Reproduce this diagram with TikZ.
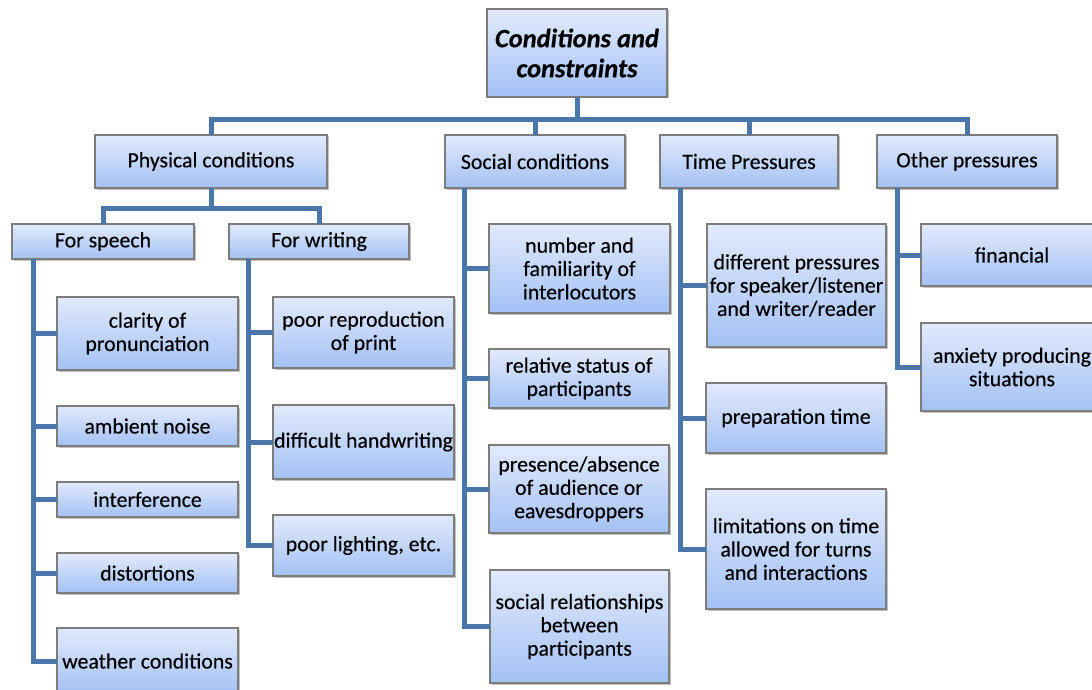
\documentclass[tikz,border=0pt]{standalone}
\usepackage{fontspec}
\setmainfont{Carlito}[FakeBold=0.4]
\usetikzlibrary{shadows,calc}
\definecolor{boxtop}{RGB}{226,234,252}
\definecolor{boxbot}{RGB}{163,193,245}
\definecolor{linkc}{RGB}{74,118,170}
\definecolor{edgec}{RGB}{125,125,125}
\tikzset{
  bx/.style={draw=edgec, line width=1.2pt, top color=boxtop, bottom color=boxbot,
    inner sep=0pt, outer sep=0pt, align=center,
    font=\fontsize{21.8}{23.3}\selectfont,
    drop shadow={shadow xshift=1.5pt, shadow yshift=-1.5pt, opacity=0.35, fill=black!70}},
  rootfont/.style={font=\fontsize{26.5}{30}\selectfont\bfseries\itshape},
  conn/.style={draw=linkc, line width=5pt, line join=miter, line cap=butt},
}
\newcommand\bx[7][]{%
  \node[bx, #1, minimum width={#5pt-#3pt}, minimum height={#6pt-#4pt}] (#2) at ({(#3+#5)/2},{(#4+#6)/2}) {#7};}
\begin{document}
\begin{tikzpicture}[x=1pt,y=-1pt]
\useasboundingbox[fill=white] (0,0) rectangle (1092,690);
% boxes
\bx[rootfont]{root}{487}{9}{667}{97}{Conditions and\\constraints}
\bx{phys}{95}{135}{327}{188}{Physical conditions}
\bx{soc}{445}{135}{625}{188}{Social conditions}
\bx{time}{660}{135}{838}{188}{Time Pressures}
\bx{other}{877}{135}{1057}{188}{Other pressures}
\bx{speech}{12}{224}{194}{259}{For speech}
\bx{writing}{229}{224}{409}{259}{For writing}
\bx{clar}{57}{297}{238}{370}{clarity of\\pronunciation}
\bx{amb}{57}{406}{238}{446}{ambient noise}
\bx{intf}{57}{482}{238}{517}{interference}
\bx{dist}{57}{553}{238}{593}{distortions}
\bx{weat}{57}{628}{238}{694}{weather conditions}
\bx{repr}{273}{297}{454}{368}{poor reproduction\\of print}
\bx{hand}{273}{405}{454}{479}{difficult handwriting}
\bx{light}{273}{515}{454}{576}{poor lighting, etc.}
\bx{num}{489}{224}{670}{313}{number and\\familiarity of\\interlocutors}
\bx{rel}{489}{349}{669}{408}{relative status of\\participants}
\bx{pres}{489}{445}{669}{533}{presence/absence\\of audience or\\eavesdroppers}
\bx{srel}{490}{570}{669}{683}{social relationships\\between\\participants}
\bx{diff}{707}{224}{886}{347}{different pressures\\for speaker/listener\\and writer/reader}
\bx{prep}{706}{383}{886}{453}{preparation time}
\bx{lim}{706}{489}{886}{609}{limitations on time\\allowed for turns\\and interactions}
\bx{fin}{921}{224}{1103}{286}{financial}
\bx{anx}{921}{323}{1103}{411}{anxiety producing\\situations}
% bus coordinates
\coordinate (bus) at (577,120);
\coordinate (pb) at (211,208);
\coordinate (ts) at ($(speech.south west)+(21,0)$);
\coordinate (tw) at ($(writing.south west)+(19,0)$);
\coordinate (tsoc) at ($(soc.south west)+(19,0)$);
\coordinate (ttime) at ($(time.south west)+(20,0)$);
\coordinate (toth) at ($(other.south west)+(20,0)$);
% top level
\draw[conn] (root.south) -- (bus);
\draw[conn] (phys.north) |- (bus) -| (other.north);
\draw[conn] (soc.north) -- (soc.north |- bus);
\draw[conn] (time.north) -- (time.north |- bus);
% physical
\draw[conn] (phys.south) -- (pb);
\draw[conn] (speech.north) |- (pb) -| (writing.north);
% for speech
\draw[conn] (ts) |- (weat.west);
\draw[conn] (clar.west) -- (clar.west -| ts);
\draw[conn] (amb.west) -- (amb.west -| ts);
\draw[conn] (intf.west) -- (intf.west -| ts);
\draw[conn] (dist.west) -- (dist.west -| ts);
% for writing
\draw[conn] (tw) |- (light.west);
\draw[conn] (repr.west) -- (repr.west -| tw);
\draw[conn] (hand.west) -- (hand.west -| tw);
% social
\draw[conn] (tsoc) |- (srel.west);
\draw[conn] (num.west) -- (num.west -| tsoc);
\draw[conn] (rel.west) -- (rel.west -| tsoc);
\draw[conn] (pres.west) -- (pres.west -| tsoc);
% time
\draw[conn] (ttime) |- (lim.west);
\draw[conn] (diff.west) -- (diff.west -| ttime);
\draw[conn] (prep.west) -- (prep.west -| ttime);
% other
\draw[conn] (toth) |- (anx.west);
\draw[conn] (fin.west) -- (fin.west -| toth);
\end{tikzpicture}
\end{document}
